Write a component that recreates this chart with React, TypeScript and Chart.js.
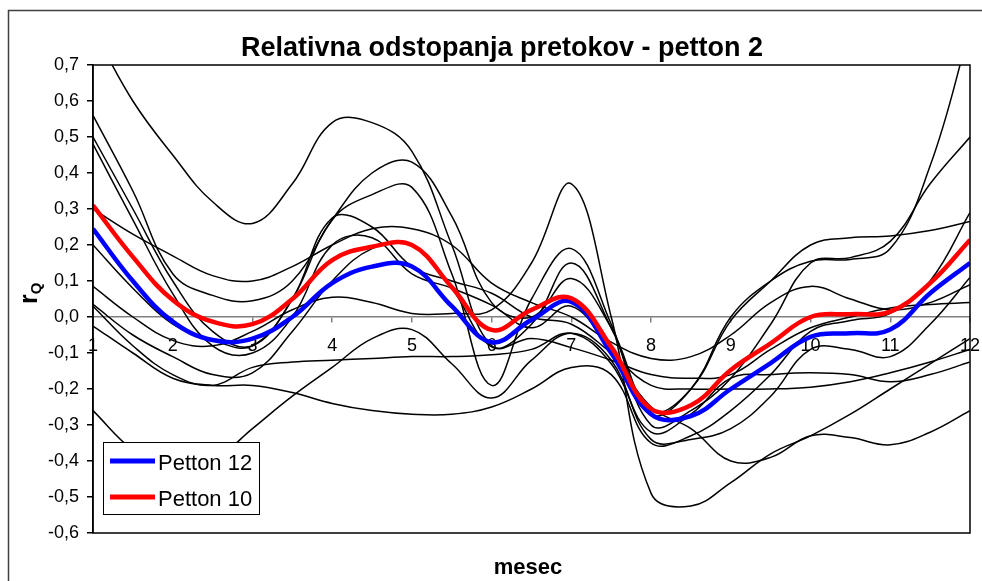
import React, { useEffect, useRef } from "react";
import { Chart, registerables } from "chart.js";

Chart.register(...registerables);

// x positions (months, half-month steps)
const months = [1, 1.5, 2, 2.5, 3, 3.5, 4, 4.5, 5, 5.5, 6, 6.5, 7, 7.5, 8, 8.5, 9, 9.5, 10, 10.5, 11, 11.5, 12];
const monthTicks = ["1", "2", "3", "4", "5", "6", "7", "8", "9", "10", "11", "12"];

const petton12 = [0.245, 0.1, -0.013, -0.064, -0.06, 0.0, 0.094, 0.14, 0.14, 0.03, -0.07, -0.008, 0.042, -0.1, -0.27, -0.275, -0.2, -0.128, -0.055, -0.045, -0.035, 0.066, 0.15];
const petton10 = [0.31, 0.167, 0.047, -0.013, -0.02, 0.05, 0.158, 0.195, 0.2, 0.083, -0.036, 0.02, 0.052, -0.083, -0.255, -0.245, -0.147, -0.073, 0.0, 0.008, 0.015, 0.094, 0.214];

const run1 = [0.8, 0.6, 0.45, 0.32, 0.26, 0.37, 0.54, 0.54, 0.46, 0.2, -0.08, -0.02, 0.15, -0.03, -0.27, -0.2, 0.0, 0.1, 0.155, 0.16, 0.19, 0.42, 0.8];
const run2 = [0.56, 0.35, 0.12, 0.06, 0.045, 0.1, 0.27, 0.4, 0.43, 0.28, 0.04, 0.0, 0.107, -0.03, -0.26, -0.2, -0.01, 0.1, 0.2, 0.22, 0.225, 0.24, 0.265];
const run3 = [0.5, 0.3, 0.1, -0.04, -0.08, 0.05, 0.27, 0.34, 0.36, 0.12, -0.19, 0.05, 0.19, -0.02, -0.3, -0.26, -0.17, -0.02, 0.15, 0.165, 0.21, 0.37, 0.5];
const run4 = [0.48, 0.27, 0.065, -0.08, -0.1, 0.0, 0.2, 0.22, 0.12, 0.08, 0.033, -0.03, 0.03, -0.1, -0.25, -0.31, -0.4, -0.39, -0.33, -0.335, -0.355, -0.32, -0.26];
const run5 = [0.3, 0.23, 0.17, 0.115, 0.1, 0.14, 0.2, 0.245, 0.245, 0.2, 0.094, 0.04, 0.0, -0.07, -0.115, -0.11, -0.05, 0.04, 0.085, 0.05, 0.02, 0.04, 0.09];
const run6 = [0.2, 0.08, -0.02, -0.065, -0.08, 0.05, 0.275, 0.25, 0.14, 0.1, 0.066, 0.0, -0.02, -0.1, -0.19, -0.2, -0.2, -0.2, -0.195, -0.18, -0.155, -0.125, -0.09];
const run7 = [0.085, 0.0, -0.065, -0.08, -0.04, 0.02, 0.055, 0.04, 0.01, 0.01, 0.02, 0.15, 0.37, 0.0, -0.49, -0.525, -0.46, -0.38, -0.33, -0.27, -0.2, -0.13, -0.06];
const run8 = [0.035, -0.05, -0.11, -0.16, -0.155, -0.04, 0.1, 0.19, 0.2, 0.08, -0.083, -0.06, -0.085, -0.12, -0.16, -0.17, -0.16, -0.09, -0.03, 0.0, 0.025, 0.035, 0.04];
const run9 = [0.03, -0.08, -0.16, -0.19, -0.14, -0.125, -0.12, -0.115, -0.11, -0.11, -0.105, -0.09, -0.045, -0.13, -0.32, -0.27, -0.17, -0.16, -0.155, -0.16, -0.18, -0.16, -0.125];
const run10 = [-0.025, -0.1, -0.17, -0.19, -0.19, -0.21, -0.24, -0.26, -0.27, -0.27, -0.25, -0.2, -0.14, -0.16, -0.35, -0.33, -0.26, -0.16, -0.04, -0.01, 0.01, 0.1, 0.29];
const run11 = [-0.26, -0.37, -0.43, -0.4, -0.31, -0.22, -0.14, -0.06, -0.035, -0.13, -0.225, -0.12, -0.045, -0.12, -0.34, -0.34, -0.31, -0.22, -0.09, -0.09, -0.11, -0.02, 0.11];

const blackRuns = [run1, run2, run3, run4, run5, run6, run7, run8, run9, run10, run11];

const titleText = "Relativna odstopanja pretokov - petton 2";
const xTitle = "mesec";
const legendLabels = ["Petton 12", "Petton 10"];

const FONT = "'Liberation Sans', Arial, Helvetica, sans-serif";

const toPoints = (vals: number[]) => vals.map((v, i) => ({ x: months[i], y: v }));

const decor = {
  id: "decor",
  afterDraw(chart: any) {
    const ctx = chart.ctx as CanvasRenderingContext2D;
    const a = chart.chartArea;
    ctx.save();
    // plot border
    ctx.strokeStyle = "#000";
    ctx.lineWidth = 1.5;
    ctx.strokeRect(a.left, a.top, a.right - a.left, a.bottom - a.top);

    // outer chart frame
    ctx.strokeStyle = "#404040";
    ctx.lineWidth = 1.5;
    ctx.beginPath();
    ctx.moveTo(8.5, 581);
    ctx.lineTo(8.5, 10.5);
    ctx.lineTo(982, 10.5);
    ctx.stroke();

    // title
    ctx.fillStyle = "#000";
    ctx.font = `bold 27px ${FONT}`;
    ctx.textAlign = "center";
    ctx.textBaseline = "alphabetic";
    ctx.fillText(titleText, 502, 56);

    // x title
    ctx.font = `bold 22px ${FONT}`;
    ctx.fillText(xTitle, 528, 574);

    // y title r_Q
    ctx.save();
    ctx.translate(37, 304);
    ctx.rotate(-Math.PI / 2);
    ctx.textAlign = "left";
    ctx.font = `bold 25px ${FONT}`;
    ctx.fillText("r", 0, 0);
    const w = ctx.measureText("r").width;
    ctx.font = `bold 15px ${FONT}`;
    ctx.fillText("Q", w, 4);
    ctx.restore();

    // legend
    const lx = 103.5, ly = 442.5, lw = 156, lh = 72;
    ctx.fillStyle = "#fff";
    ctx.fillRect(lx, ly, lw, lh);
    ctx.strokeStyle = "#000";
    ctx.lineWidth = 1;
    ctx.strokeRect(lx, ly, lw, lh);
    const items = [
      { color: "#0000ff", y: 461, label: legendLabels[0] },
      { color: "#ff0000", y: 497, label: legendLabels[1] },
    ];
    items.forEach((it) => {
      ctx.strokeStyle = it.color;
      ctx.lineWidth = 5;
      ctx.beginPath();
      ctx.moveTo(110, it.y);
      ctx.lineTo(155, it.y);
      ctx.stroke();
      ctx.fillStyle = "#000";
      ctx.font = `22px ${FONT}`;
      ctx.textAlign = "left";
      ctx.textBaseline = "alphabetic";
      ctx.fillText(it.label, 158, it.y + 9);
    });
    ctx.restore();
  },
};

export default function App() {
  const ref = useRef<HTMLCanvasElement | null>(null);
  useEffect(() => {
    if (!ref.current) return;
    const datasets: any[] = [
      { label: legendLabels[1], data: toPoints(petton10), borderColor: "#ff0000", borderWidth: 4.5 },
      { label: legendLabels[0], data: toPoints(petton12), borderColor: "#0000ff", borderWidth: 4.5 },
      ...blackRuns.map((r, i) => ({ label: "run" + (i + 1), data: toPoints(r), borderColor: "#000", borderWidth: 1.5 })),
    ];
    const chart = new Chart(ref.current, {
      type: "line",
      data: { datasets },
      plugins: [decor],
      options: {
        animation: false,
        responsive: false,
        maintainAspectRatio: false,
        devicePixelRatio: 1,
        layout: { padding: { left: 0, right: 12, top: 65, bottom: 48 } },
        elements: { point: { radius: 0 }, line: { tension: 0.4, fill: false } },
        plugins: { legend: { display: false }, title: { display: false }, tooltip: { enabled: false } },
        scales: {
          x: {
            type: "linear",
            min: 1,
            max: 12,
            position: { y: 0 } as any,
            ticks: {
              stepSize: 1,
              autoSkip: false,
              maxRotation: 0,
              padding: 13,
              color: "#000",
              font: { family: FONT, size: 18 },
              callback: (v: any) => monthTicks[Math.round(v) - 1] ?? "",
            },
            grid: { drawOnChartArea: false, drawTicks: true, tickLength: 5, color: "#808080", lineWidth: 1.5 },
            border: { display: true, color: "#808080", width: 1.5 },
            afterFit: (s: any) => {
              s.paddingLeft = 0;
              s.paddingRight = 0;
            },
          },
          y: {
            min: -0.6,
            max: 0.7,
            ticks: {
              stepSize: 0.1,
              padding: 8,
              color: "#000",
              font: { family: FONT, size: 18 },
              callback: (v: any) => Number(v).toFixed(1).replace(".", ","),
            },
            grid: { drawOnChartArea: false, drawTicks: true, tickLength: 6, color: "#000", lineWidth: 1.5 },
            border: { display: true, color: "#000", width: 1.5 },
            afterFit: (s: any) => {
              s.width = 93;
              s.paddingTop = 0;
              s.paddingBottom = 0;
            },
          },
        },
      },
    });
    return () => chart.destroy();
  }, []);
  return (
    <div style={{ position: "absolute", left: 0, top: 0, width: 982, height: 581, background: "#fff" }}>
      <canvas ref={ref} width={982} height={581} style={{ width: 982, height: 581, display: "block" }} />
    </div>
  );
}
